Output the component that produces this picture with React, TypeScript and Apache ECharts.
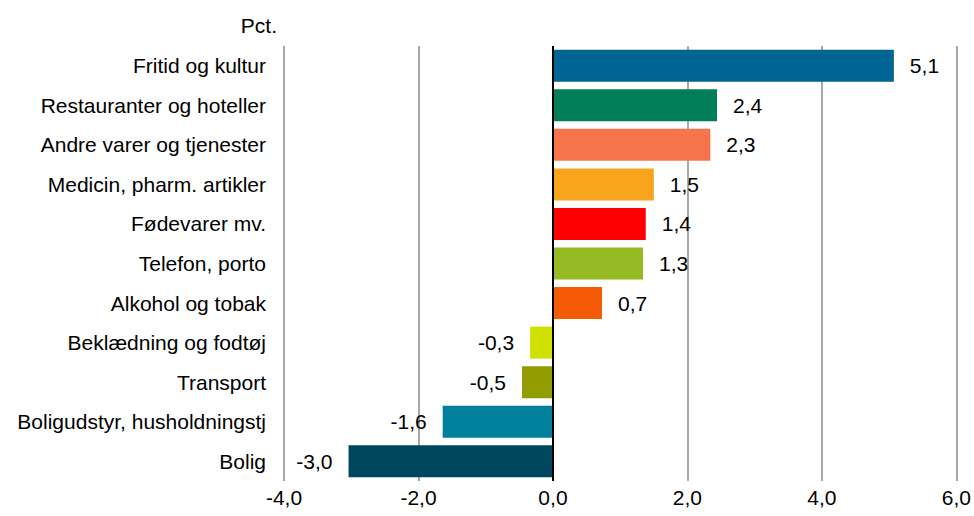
import React, { useEffect, useRef } from "react";
import * as echarts from "echarts";

const categories = [
  "Fritid og kultur",
  "Restauranter og hoteller",
  "Andre varer og tjenester",
  "Medicin, pharm. artikler",
  "Fødevarer mv.",
  "Telefon, porto",
  "Alkohol og tobak",
  "Beklædning og fodtøj",
  "Transport",
  "Boligudstyr, husholdningstj",
  "Bolig",
];

const values = [5.07, 2.44, 2.34, 1.5, 1.38, 1.34, 0.73, -0.34, -0.46, -1.64, -3.04];

const colors = [
  "#006494",
  "#007E57",
  "#F7744A",
  "#F8A51C",
  "#FF0000",
  "#95BA24",
  "#F55A04",
  "#D0E000",
  "#929C00",
  "#00809A",
  "#00465C",
];

const xTicks = { min: -4, max: 6, interval: 2 };
const unitLabel = "Pct.";

const fmt = (v: number) => v.toFixed(1).replace(".", ",");

export default function App() {
  const ref = useRef<HTMLDivElement>(null);
  useEffect(() => {
    if (!ref.current) return;
    const chart = echarts.init(ref.current, undefined, { renderer: "svg" });
    const font = "'Liberation Sans', Arial, sans-serif";
    const fs = 21;
    chart.setOption({
      animation: false,
      backgroundColor: "#ffffff",
      textStyle: { fontFamily: font },
      grid: { left: 284, right: 17, top: 46, bottom: 35, containLabel: false },
      graphic: [
        {
          type: "text",
          right: 974 - 277,
          top: 15,
          style: { text: unitLabel, font: `${fs}px ${font}`, fill: "#000" },
        },
      ],
      xAxis: {
        type: "value",
        min: xTicks.min,
        max: xTicks.max,
        interval: xTicks.interval,
        axisLine: { show: false },
        axisTick: { show: false },
        splitLine: { show: true, lineStyle: { color: "#A8A8A8", width: 2 } },
        axisLabel: {
          color: "#000",
          fontSize: fs,
          fontFamily: font,
          margin: 6,
          formatter: (v: number) => fmt(v),
        },
      },
      yAxis: {
        type: "category",
        data: categories,
        inverse: true,
        axisLine: { show: false },
        axisTick: { show: false },
        splitLine: { show: false },
        axisLabel: { color: "#000", fontSize: fs, fontFamily: font, margin: 18 },
      },
      series: [
        {
          type: "bar",
          barWidth: 32,
          data: values.map((v, i) => ({
            value: v,
            itemStyle: { color: colors[i] },
            label: {
              show: true,
              position: v >= 0 ? "right" : "left",
              distance: 16,
              formatter: () => fmt(v),
              color: "#000",
              fontSize: fs,
              fontFamily: font,
            },
          })),
          markLine: {
            silent: true,
            symbol: "none",
            label: { show: false },
            lineStyle: { color: "#000", width: 2, type: "solid" },
            data: [{ xAxis: 0 }],
          },
        },
      ],
    });
    return () => chart.dispose();
  }, []);
  return (
    <div
      ref={ref}
      style={{ position: "fixed", left: 0, top: 0, width: 974, height: 516 }}
    />
  );
}
